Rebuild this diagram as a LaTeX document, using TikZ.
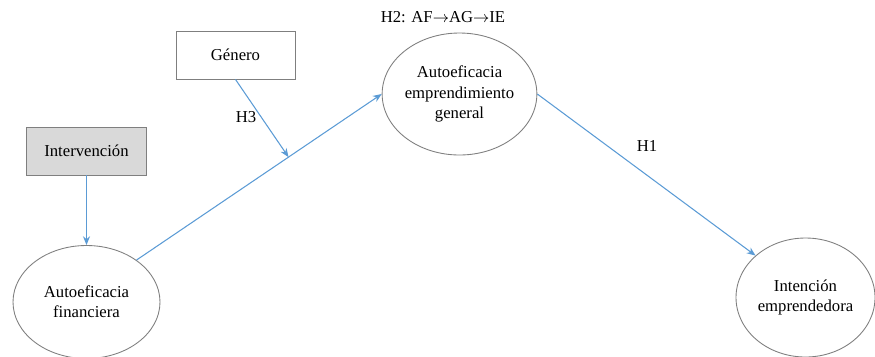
\documentclass[tikz,border=0pt]{standalone}
\usepackage{fontspec}
\setmainfont{Liberation Serif}
\usepackage{tikz}
\usetikzlibrary{calc,positioning,arrows.meta,shapes.geometric}
\definecolor{linkblue}{HTML}{5B9BD5}
\definecolor{rimgray}{HTML}{7F7F7F}
\tikzstyle{latent}   = [ellipse, draw=rimgray, line width=0.5pt, inner sep=0pt, align=center]
\tikzstyle{observed} = [rectangle, draw=rimgray, line width=0.5pt, minimum width=2.38cm, minimum height=0.96cm, align=center]
\tikzstyle{path}     = [draw=linkblue, line width=0.6pt, -{Stealth[length=5pt,width=4pt]}]

\begin{document}
\begin{tikzpicture}[font=\fontsize{9.5}{11.5}\selectfont,
			hyp/.style={inner sep=1pt},
		]
		\useasboundingbox (0,0) rectangle (17.5,-7.12);

		\node[observed] (gen) at (4.71,-1.10) {Género};
		\node[observed, fill=black!15, minimum width=2.4cm] (int) at (1.73,-3.02) {Intervención};

		\node[latent, minimum width=2.94cm, minimum height=2.26cm] (af) at (1.73,-6.04) {Autoeficacia\\financiera};
		\node[latent, minimum width=2.96cm, minimum height=2.44cm] (aeg) at (9.19,-1.88) {Autoeficacia\\emprendimiento\\general};
		\node[latent, minimum width=2.78cm, minimum height=2.38cm] (ie) at (16.11,-5.95) {Intención\\emprendedora};

		\node[hyp] (h2) at (8.86,-0.34) {H2: AF$\rightarrow$AG$\rightarrow$IE};
		\node[hyp] (h3) at (4.92,-2.34) {H3};
		\node[hyp] (h1) at (12.94,-2.92) {H1};

		\coordinate (mod) at ($(af.40)!0.62!(aeg.west)$);

		\draw[path] (int.south) -- (af.north);
		\draw[path] (af.40) -- (aeg.west);
		\draw[path] (gen.south) -- (mod);
		\draw[path] (aeg.east) -- (ie.140);
	\end{tikzpicture}
\end{document}
